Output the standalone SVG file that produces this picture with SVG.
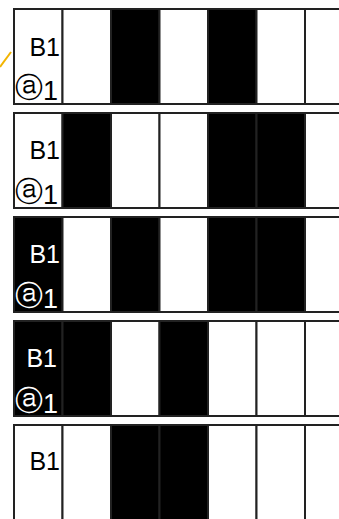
<svg xmlns="http://www.w3.org/2000/svg" width="339" height="519" viewBox="0 0 339 519">
<style>
.w{fill:#fff;stroke:#222;stroke-width:2}
.b{fill:#000;stroke:#222;stroke-width:2}
.t{font-family:"Liberation Sans","DejaVu Sans",sans-serif;font-size:25px}
.n{font-family:"Liberation Sans","DejaVu Sans",sans-serif;font-size:27px}
.c{font-family:"DejaVu Sans","Liberation Sans",sans-serif;font-size:28px}
.dk{fill:#000}
.lt{fill:#fff}
</style>
<rect width="339" height="519" fill="#fff"/>
<g id="connectors">
<line x1="0" y1="67" x2="11" y2="52" stroke="#f2b400" stroke-width="2"/>
</g>
<g id="row1" transform="translate(0,9)">
<rect class="w" x="14" y="0" width="48.5" height="95"/>
<rect class="w" x="62.5" y="0" width="48.5" height="95"/>
<rect class="b" x="111" y="0" width="48.5" height="95"/>
<rect class="w" x="159.5" y="0" width="48.5" height="95"/>
<rect class="b" x="208" y="0" width="48.5" height="95"/>
<rect class="w" x="256.5" y="0" width="48.5" height="95"/>
<rect class="w" x="305" y="0" width="48.5" height="95"/>
<text class="t dk" x="60" y="47" text-anchor="end">B1</text>
<text class="c dk" x="15" y="88">ⓐ</text>
<text class="n dk" x="43" y="91">1</text>
</g>
<g id="row2" transform="translate(0,113)">
<rect class="w" x="14" y="0" width="48.5" height="95"/>
<rect class="b" x="62.5" y="0" width="48.5" height="95"/>
<rect class="w" x="111" y="0" width="48.5" height="95"/>
<rect class="w" x="159.5" y="0" width="48.5" height="95"/>
<rect class="b" x="208" y="0" width="48.5" height="95"/>
<rect class="b" x="256.5" y="0" width="48.5" height="95"/>
<rect class="w" x="305" y="0" width="48.5" height="95"/>
<text class="t dk" x="60" y="46" text-anchor="end">B1</text>
<text class="c dk" x="15" y="88">ⓐ</text>
<text class="n dk" x="43" y="91">1</text>
</g>
<g id="row3" transform="translate(0,217)">
<rect class="b" x="14" y="0" width="48.5" height="95"/>
<rect class="w" x="62.5" y="0" width="48.5" height="95"/>
<rect class="b" x="111" y="0" width="48.5" height="95"/>
<rect class="w" x="159.5" y="0" width="48.5" height="95"/>
<rect class="b" x="208" y="0" width="48.5" height="95"/>
<rect class="b" x="256.5" y="0" width="48.5" height="95"/>
<rect class="w" x="305" y="0" width="48.5" height="95"/>
<text class="t lt" x="60" y="46" text-anchor="end">B1</text>
<text class="c lt" x="15" y="88">ⓐ</text>
<text class="n lt" x="43" y="91">1</text>
</g>
<g id="row4" transform="translate(0,321)">
<rect class="b" x="14" y="0" width="48.5" height="95"/>
<rect class="b" x="62.5" y="0" width="48.5" height="95"/>
<rect class="w" x="111" y="0" width="48.5" height="95"/>
<rect class="b" x="159.5" y="0" width="48.5" height="95"/>
<rect class="w" x="208" y="0" width="48.5" height="95"/>
<rect class="w" x="256.5" y="0" width="48.5" height="95"/>
<rect class="w" x="305" y="0" width="48.5" height="95"/>
<text class="t lt" x="57" y="46" text-anchor="end">B1</text>
<text class="c lt" x="15" y="89">ⓐ</text>
<text class="n lt" x="43" y="92">1</text>
</g>
<g id="row5" transform="translate(0,425)">
<rect class="w" x="14" y="0" width="48.5" height="96"/>
<rect class="w" x="62.5" y="0" width="48.5" height="96"/>
<rect class="b" x="111" y="0" width="48.5" height="96"/>
<rect class="b" x="159.5" y="0" width="48.5" height="96"/>
<rect class="w" x="208" y="0" width="48.5" height="96"/>
<rect class="w" x="256.5" y="0" width="48.5" height="96"/>
<rect class="w" x="305" y="0" width="48.5" height="96"/>
<text class="t dk" x="60" y="45" text-anchor="end">B1</text>
</g>
</svg>
